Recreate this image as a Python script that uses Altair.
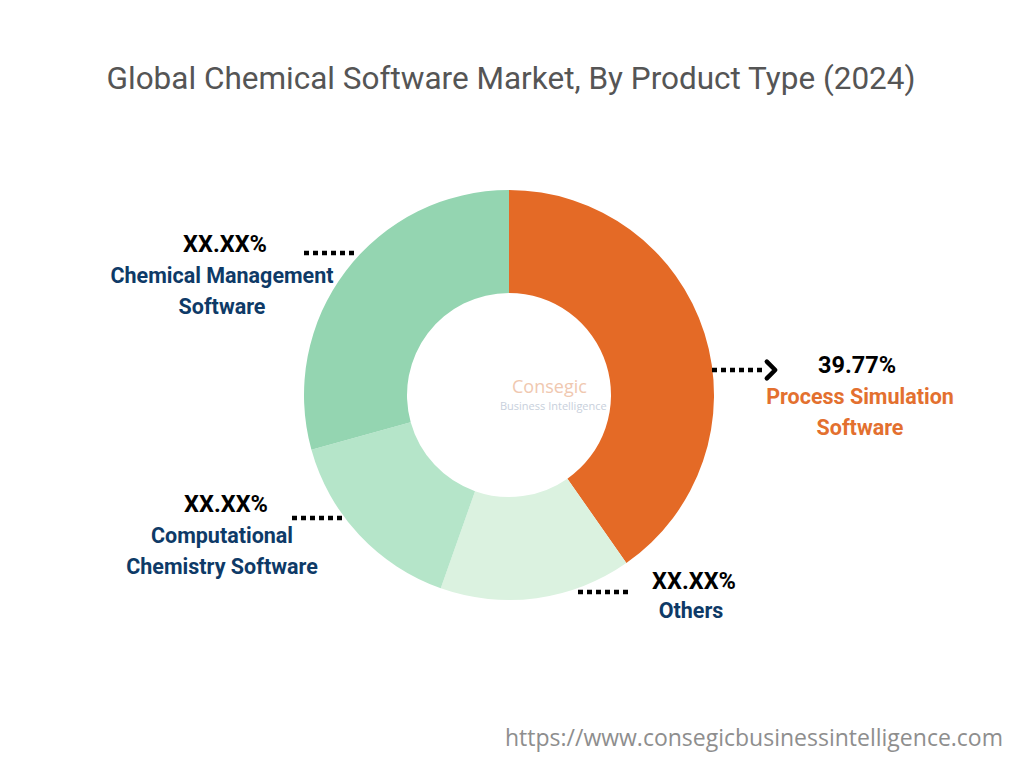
import altair as alt
import pandas as pd

categories = ["Process Simulation Software", "Others", "Computational Chemistry Software", "Chemical Management Software"]
values = [40.3, 15.1, 15.3, 29.3]
colors = ["#E46A26", "#DBF2E0", "#B5E5C9", "#94D5B1"]
pct_labels = ["39.77%", "XX.XX%", "XX.XX%", "XX.XX%"]

title_text = "Global Chemical Software Market, By Product Type (2024)"
footer_text = "https://www.consegicbusinessintelligence.com"

df = pd.DataFrame({"category": categories, "value": values, "order": list(range(len(categories)))})
one = pd.DataFrame({"a": [0]})

CX, CY = 509, 395

arc = alt.Chart(df).mark_arc(outerRadius=205, innerRadius=102, strokeWidth=0).encode(
    theta=alt.Theta("value:Q", stack=True),
    order=alt.Order("order:Q"),
    color=alt.Color("category:N", scale=alt.Scale(domain=categories, range=colors), legend=None),
    x=alt.value(CX), y=alt.value(CY),
)

def text(t, x, y, size, color, weight="bold", font="Roboto", align="center"):
    return alt.Chart(one).mark_text(
        text=t, fontSize=size, fontWeight=weight, font=font, color=color, align=align,
        baseline="middle"
    ).encode(x=alt.value(x), y=alt.value(y))

def dots(x1, x2, y):
    return alt.Chart(one).mark_rule(color="black", strokeWidth=4.5, strokeDash=[5, 4]).encode(
        x=alt.value(x1), x2=alt.value(x2), y=alt.value(y)
    )

NAVY = "#0E3A67"
ORANGE = "#E3702F"
LBL = 21.5
PCT = 23.5

arrow = alt.Chart(one).mark_point(
    shape="M-0.5,-1L0.5,0L-0.5,1", filled=False, stroke="black", strokeWidth=4.5, size=280, opacity=1,
    strokeCap="round", strokeJoin="round"
).encode(x=alt.value(771), y=alt.value(370))

layers = [
    arc,
    text(title_text, 511, 80, 31.5, "#555555", weight="normal", font="Roboto"),
    # Process Simulation
    dots(712, 762, 370),
    arrow,
    text(pct_labels[0], 857, 366, PCT, "black"),
    text("Process Simulation", 860, 398, LBL, ORANGE),
    text("Software", 860, 429, LBL, ORANGE),
    # Others
    dots(578, 632, 592),
    text(pct_labels[1], 694, 582, PCT, "black"),
    text("Others", 691, 612, LBL, NAVY),
    # Computational
    dots(292, 346, 518),
    text(pct_labels[2], 226, 505, PCT, "black"),
    text("Computational", 222, 537, LBL, NAVY),
    text("Chemistry Software", 222, 568, LBL, NAVY),
    # Chemical Management
    dots(304, 358, 253),
    text(pct_labels[3], 225, 245, PCT, "black"),
    text("Chemical Management", 222, 277, LBL, NAVY),
    text("Software", 222, 308, LBL, NAVY),
    # watermark
    text("Consegic", 512, 388, 18, "#F0C8B0", weight="normal", font="Open Sans", align="left"),
    text("Business Intelligence", 500, 407, 11, "#C8D0DC", weight="normal", font="Open Sans", align="left"),
    # footer
    text(footer_text, 1003, 739, 23, "#8E8E8E", weight="normal", font="Open Sans", align="right"),
]

chart = alt.layer(*layers).properties(
    width=1024, height=768, autosize=alt.AutoSizeParams(type="none"), padding=0, background="white"
).configure_view(stroke=None)

chart.save("out.html", embed_options={"renderer": "svg", "actions": False})
